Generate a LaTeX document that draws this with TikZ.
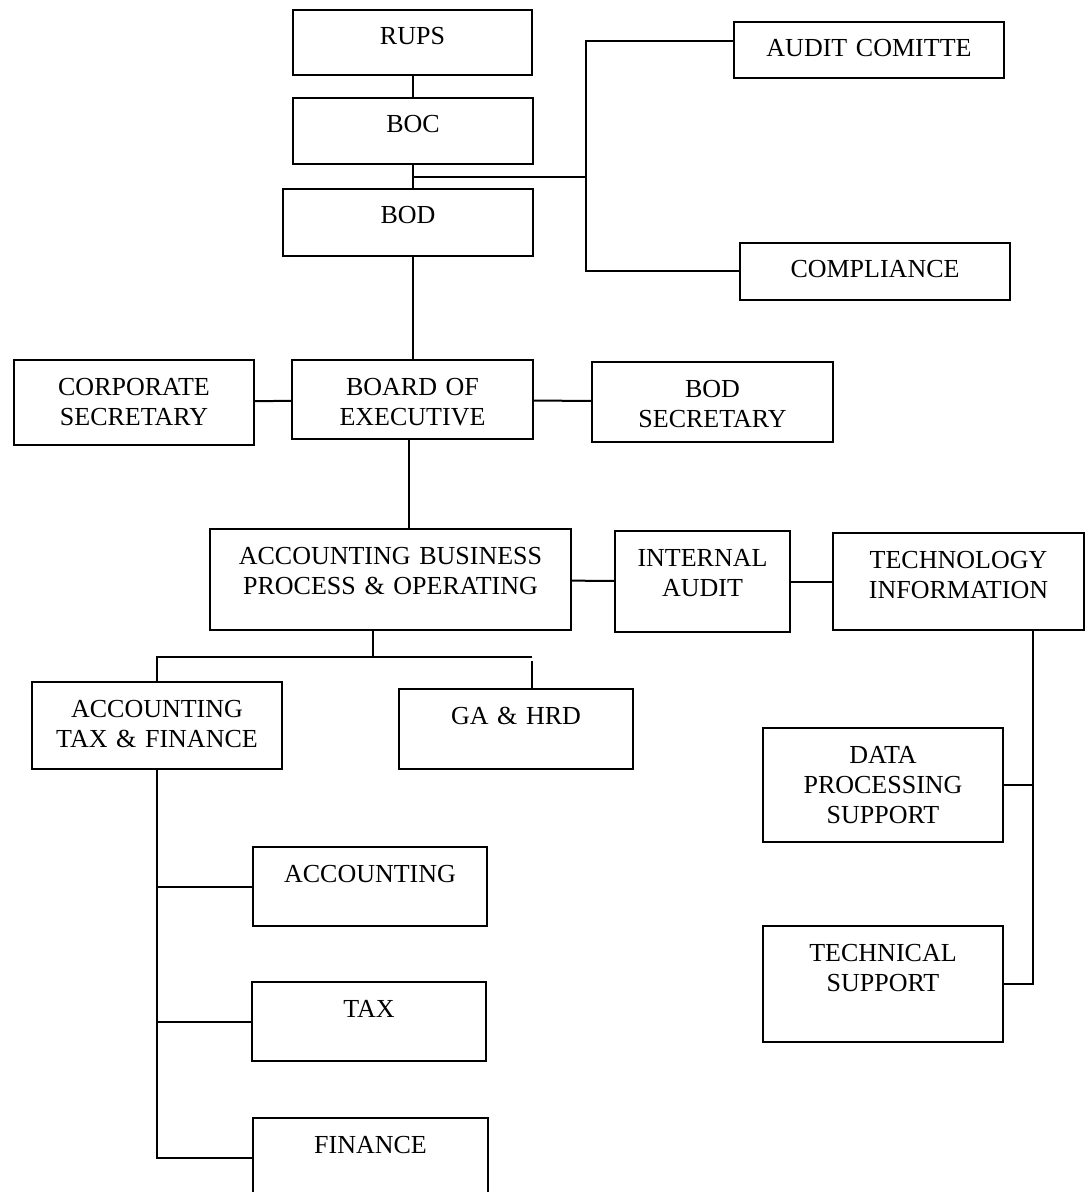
\documentclass[tikz,border=0pt]{standalone}
\usepackage{fontspec}
\setmainfont{Liberation Serif}
\usepackage{tikz}
\newcommand{\orgfont}{\fontsize{13pt}{15pt}\selectfont}
\tikzset{
  obox/.style={
    draw=black,
    line width=1pt,
    anchor=north west,
    align=center,
    font=\orgfont,
    inner xsep=0pt,
    inner ysep=0pt,
    text height=17.5pt
  },
  link/.style={line width=1pt, draw=black}
}

\begin{document}
\begin{tikzpicture}[x=0.5pt, y=-0.5pt]
  \useasboundingbox (0,0) rectangle (1089,1192);

  % Board level
  \node[obox, text width=119.5pt, text depth=15pt] (rups) at (292,9) {RUPS};
  \node[obox, text width=120pt, text depth=15.5pt] (boc) at (292,97) {BOC};
  \node[obox, text width=125pt, text depth=16pt] (bod) at (282,188) {BOD};
  \node[obox, text width=135pt, text depth=10.5pt] (audit) at (733,21) {AUDIT COMITTE};
  \node[obox, text width=135pt, text depth=11pt] (compl) at (739,242) {COMPLIANCE};

  \node[obox, text width=120pt, text depth=25pt] (corp) at (13,359) {CORPORATE\\SECRETARY};
  \node[obox, text width=120.5pt, text depth=22pt] (boe) at (291,359) {BOARD OF\\EXECUTIVE};
  \node[obox, text width=120.5pt, text depth=22.5pt] (bodsec) at (591,361) {BOD\\SECRETARY};

  % Operating level
  \node[obox, text width=180.5pt, text depth=33pt] (abpo) at (209,528) {ACCOUNTING BUSINESS\\PROCESS \& OPERATING};
  \node[obox, text width=87.5pt, text depth=33pt] (ia) at (614,530) {INTERNAL\\AUDIT};
  \node[obox, text width=125.5pt, text depth=31pt] (ti) at (832,532) {TECHNOLOGY\\INFORMATION};

  \node[obox, text width=125pt, text depth=26pt] (atf) at (31,681) {ACCOUNTING\\TAX \& FINANCE};
  \node[obox, text width=117pt, text depth=22.5pt] (gahrd) at (398,688) {GA \& HRD};
  \node[obox, text width=120pt, text depth=39.5pt] (dps) at (762,727) {DATA\\PROCESSING\\SUPPORT};
  \node[obox, text width=120pt, text depth=40.5pt] (ts) at (762,925) {TECHNICAL\\SUPPORT};

  \node[obox, text width=117pt, text depth=22pt] (acc) at (252,846) {ACCOUNTING};
  \node[obox, text width=117pt, text depth=22pt] (tax) at (251,981) {TAX};
  \node[obox, text width=117.5pt, text depth=22.5pt] (fin) at (252,1117) {FINANCE};

  % Connectors
  \coordinate (spine) at (586,177);
  \draw[link] (rups.south) -- (rups.south |- boc.north);
  \draw[link] (boc.south) -- (boc.south |- bod.north);
  \draw[link] (boc.south |- spine) -- (spine);
  \draw[link] ([yshift=4.5pt]audit.west) -| (spine) |- (compl.west);
  \draw[link] (boe.north) -- (boe.north |- bod.south);

  \draw[link] (corp) -- (boe);
  \draw[link] (boe) -- (bodsec);
  \draw[link] ([xshift=-2pt]boe.south) -- ([xshift=-2pt]boe.south |- abpo.north);

  \draw[link] (abpo) -- (ia);
  \draw[link] (ia) -- (ti);

  \coordinate (split) at (373,657);
  \coordinate (gadrop) at (532,657);
  \draw[link] (split |- abpo.south) -- (split);
  \draw[link] (atf.north) |- (gadrop);
  \draw[link] ([yshift=-2pt]gadrop) -- (gadrop |- gahrd.north);

  \draw[link] (atf.south) |- (fin.west);
  \draw[link] (atf.south |- acc.west) -- (acc.west);
  \draw[link] (atf.south |- tax.west) -- (tax.west);

  \coordinate (tispine) at (1033,629);
  \draw[link] (tispine |- ti.south) |- (ts.east);
  \draw[link] (dps.east) -- (dps.east -| tispine);
\end{tikzpicture}
\end{document}
